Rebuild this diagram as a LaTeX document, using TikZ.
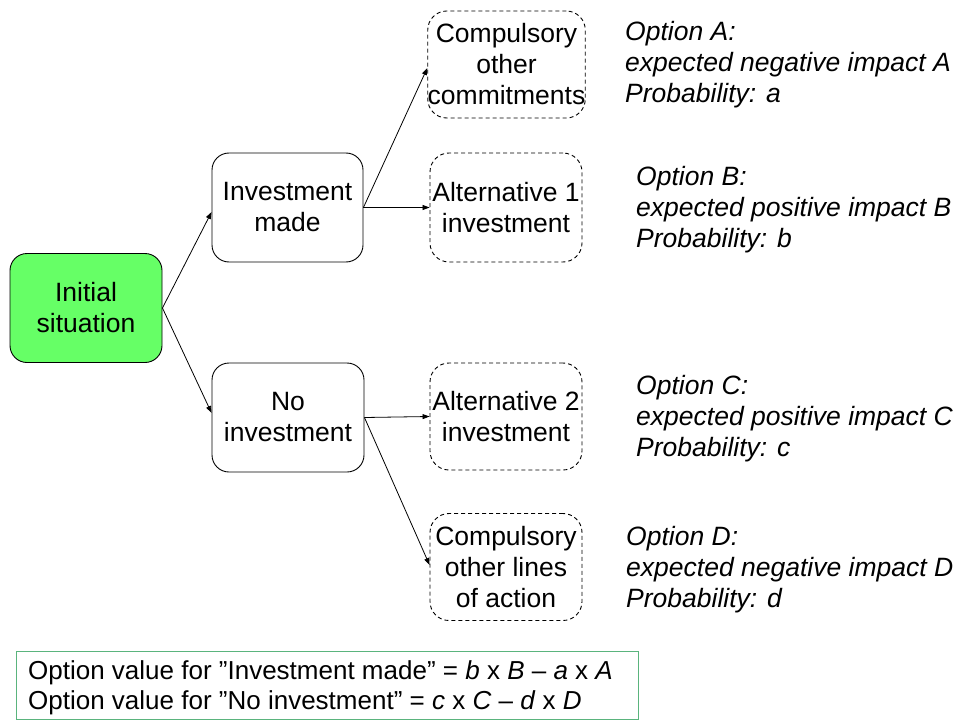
\documentclass[tikz,border=0pt]{standalone}
\usepackage{fontspec}
\setmainfont{Liberation Sans}
\usetikzlibrary{arrows.meta}
\definecolor{initgreen}{RGB}{102,255,102}
\definecolor{sumgreen}{RGB}{90,180,125}
\begin{document}
\begin{tikzpicture}[x=1pt,y=-1pt,
  every node/.style={font=\fontsize{26.5}{31}\selectfont, inner sep=0pt, align=center},
  solidbox/.style={draw=black, line width=0.9pt, rounded corners=17pt, minimum width=151pt, minimum height=109pt},
  dashbox/.style={draw=black, line width=0.9pt, dash pattern=on 4pt off 3pt, rounded corners=19pt, minimum width=152pt, minimum height=107pt},
  optext/.style={anchor=west, align=left, font=\fontsize{26.5}{31}\selectfont\itshape},
  conn/.style={draw=black, line width=0.8pt, -{Triangle[length=7pt,width=5pt]}}
]
\useasboundingbox (0,0) rectangle (957,722);

\node[solidbox, fill=initgreen, minimum width=152pt] (init) at (86,308) {Initial\\situation};
\node[solidbox] (inv) at (287.5,207.5) {Investment\\made};
\node[solidbox, minimum width=152pt] (noinv) at (288,417.5) {No\\investment};

\node[dashbox, minimum width=153pt] (comp1) at (506.5,64.5) {Compulsory\\other\\commitments};
\node[dashbox, minimum height=109pt] (alt1) at (506,207.5) {Alternative 1\\investment};
\node[dashbox] (alt2) at (506,416.5) {Alternative 2\\investment};
\node[dashbox] (comp2) at (506,567) {Compulsory\\other lines\\of action};

\draw[conn] (init.east) -- ([yshift=-4.5pt]inv.west);
\draw[conn] (init.east) -- ([yshift=4.5pt]noinv.west);
\draw[conn] (inv.east) -- ([yshift=-3.5pt]comp1.west);
\draw[conn] (inv.east) -- (alt1.west);
\draw[conn] (noinv.east) -- (alt2.west);
\draw[conn] (noinv.east) -- ([yshift=2pt]comp2.west);

\node[optext] (optA) at (625,65) {Option A:\\expected negative impact A\\Probability: a};
\node[optext] (optB) at (636,210) {Option B:\\expected positive impact B\\Probability: b};
\node[optext] (optC) at (636,419) {Option C:\\expected positive impact C\\Probability: c};
\node[optext] (optD) at (626,570) {Option D:\\expected negative impact D\\Probability: d};

\node[draw=sumgreen, line width=0.9pt, minimum width=622pt, minimum height=68pt] (sum) at (327,685) {};
\node[anchor=west, align=left, font=\fontsize{26}{30}\selectfont] (sumtext) at (28,688)
  {Option value for ”Investment made” = \textit{b} x \textit{B} – \textit{a} x \textit{A}\\
   Option value for ”No investment” = \textit{c} x \textit{C} – \textit{d} x \textit{D}};
\end{tikzpicture}
\end{document}
